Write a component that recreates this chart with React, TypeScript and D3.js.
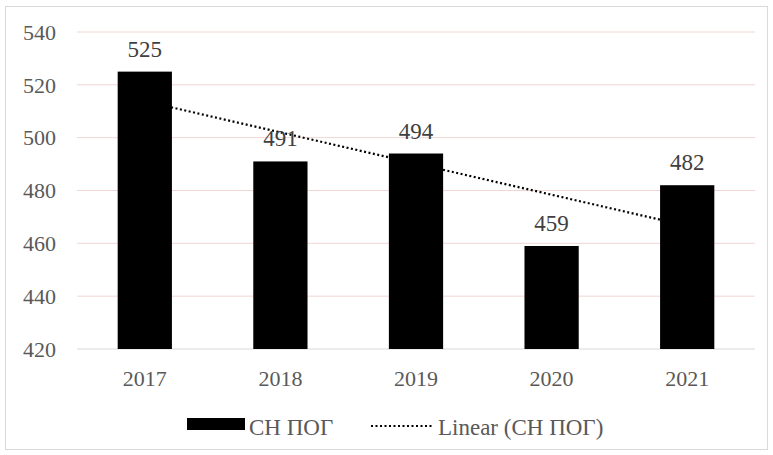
import React from 'react';
import * as d3 from 'd3';

const years = ['2017', '2018', '2019', '2020', '2021'];
const values = [525, 491, 494, 459, 482];
const yTicks = [420, 440, 460, 480, 500, 520, 540];
const seriesName = 'СН ПОГ';
const trendName = 'Linear (СН ПОГ)';

const W = 773;
const H = 455;
const margin = { left: 77, right: 18, top: 32, bottom: 106 };

// least squares fit over category index
const linearFit = (ys: number[]) => {
  const xs = ys.map((_, i) => i);
  const mx = d3.mean(xs) as number;
  const my = d3.mean(ys) as number;
  const slope = d3.sum(xs, (x, i) => (x - mx) * (ys[i] - my)) / d3.sum(xs, x => (x - mx) ** 2);
  return (i: number) => my + slope * (i - mx);
};

const font = "'Liberation Serif', 'DejaVu Serif', serif";

export default function App() {
  const x = d3.scaleBand().domain(years).range([margin.left, W - margin.right]).paddingInner(0.6).paddingOuter(0.3);
  const y = d3.scaleLinear().domain([420, 540]).range([H - margin.bottom, margin.top]);
  const fit = linearFit(values);
  const cx = (i: number) => (x(years[i]) as number) + x.bandwidth() / 2;
  const trend = d3.line<number>().x((_, i) => cx(i)).y((_, i) => y(fit(i)));

  return (
    <svg width={W} height={H} style={{ position: 'absolute', left: 0, top: 0, background: '#fff', fontFamily: font }}>
      <rect x={5.5} y={6.5} width={W - 11} height={H - 12} fill="#fff" stroke="#d9d9d9" />
      {yTicks.slice(1).map(t => (
        <line key={t} x1={margin.left} x2={W - margin.right} y1={y(t)} y2={y(t)} stroke="#f0d6d4" strokeWidth={1} />
      ))}
      <line x1={margin.left} x2={W - margin.right} y1={y(420)} y2={y(420)} stroke="#d9d9d9" strokeWidth={1} />
      {yTicks.map(t => (
        <text key={t} x={56} y={y(t)} dy="0.35em" textAnchor="end" fontSize={22} fill="#595959" style={{ fontFamily: font }}>{t}</text>
      ))}
      {years.map((yr, i) => (
        <rect key={yr} x={x(yr)} y={y(values[i])} width={x.bandwidth()} height={y(420) - y(values[i])} fill="#000" />
      ))}
      <path d={trend(values) as string} fill="none" stroke="#000" strokeWidth={2.2} strokeDasharray="2 2.5" />
      {years.map((yr, i) => (
        <text key={yr} x={cx(i)} y={y(values[i]) - 15} textAnchor="middle" fontSize={23} fill="#404040" style={{ fontFamily: font }}>{values[i]}</text>
      ))}
      {years.map((yr, i) => (
        <text key={yr} x={cx(i)} y={386} textAnchor="middle" fontSize={22} fill="#595959" style={{ fontFamily: font }}>{yr}</text>
      ))}
      <g>
        <rect x={187} y={418} width={58} height={12} fill="#000" />
        <text x={249} y={435} fontSize={23} fill="#595959" style={{ fontFamily: font }}>{seriesName}</text>
        <line x1={371} x2={434} y1={426} y2={426} stroke="#000" strokeWidth={2.2} strokeDasharray="2 2.5" />
        <text x={438} y={435} fontSize={23} fill="#595959" style={{ fontFamily: font }}>{trendName}</text>
      </g>
    </svg>
  );
}
